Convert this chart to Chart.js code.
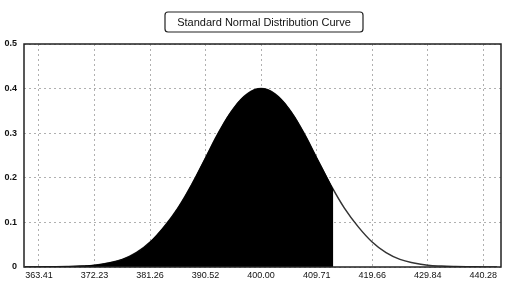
<!DOCTYPE html>
<html>
<head>
<meta charset="utf-8">
<script src="https://cdn.jsdelivr.net/npm/chart.js@4"></script>
<style>
  html, body { margin: 0; padding: 0; background: #fff; }
  #wrap { width: 525px; height: 294px; position: relative; }
</style>
</head>
<body>
<div id="wrap"><canvas id="chart"></canvas></div>
<script>
// ---- data ----
const chartTitle = 'Standard Normal Distribution Curve';
const xTickValues = [-4, -3, -2, -1, 0, 1, 2, 3, 4];
const xTickLabels = ['363.41', '372.23', '381.26', '390.52', '400.00', '409.71', '419.66', '429.84', '440.28'];
const yTickLabels = ['0', '0.1', '0.2', '0.3', '0.4', '0.5'];

// curve position (in tick steps from the mean) and density height
const curveZ = [-4.25, -4, -3.75, -3.5, -3.25, -3, -2.75, -2.5, -2.25, -2, -1.75, -1.5, -1.25, -1, -0.75, -0.5, -0.25,
  0, 0.25, 0.5, 0.75, 1, 1.25, 1.5, 1.75, 2, 2.25, 2.5, 2.75, 3, 3.25, 3.5, 3.75, 4, 4.25];
const curveDensity = [0.0001, 0.0002, 0.0005, 0.001, 0.002, 0.004, 0.009, 0.017, 0.032, 0.056, 0.090, 0.132, 0.185, 0.245, 0.305, 0.355, 0.388,
  0.400, 0.388, 0.355, 0.305, 0.245, 0.185, 0.132, 0.090, 0.056, 0.032, 0.017, 0.009, 0.004, 0.002, 0.001, 0.0005, 0.0002, 0.0001];

// shaded area stops here
const shadeCutoffZ = 1.3;
const shadeCutoffDensity = 0.172;

const curvePoints = curveZ.map((z, i) => ({ x: z, y: curveDensity[i] }));
const shadedPoints = curvePoints.filter(p => p.x < shadeCutoffZ).concat([{ x: shadeCutoffZ, y: shadeCutoffDensity }]);

// title in a small box + frame round the plot
const framePlugin = {
  id: 'frame',
  afterDraw(chart) {
    const ctx = chart.ctx, a = chart.chartArea;
    ctx.save();
    ctx.strokeStyle = '#222';
    ctx.lineWidth = 1.5;
    ctx.strokeRect(a.left, a.top, a.right - a.left, a.bottom - a.top);

    ctx.font = '11px "Liberation Sans", Arial, sans-serif';
    ctx.fillStyle = '#111';
    ctx.textAlign = 'center';
    ctx.textBaseline = 'middle';
    const cx = 264, cy = 22;
    const w = 198, h = 20;
    ctx.lineWidth = 1.2;
    ctx.beginPath();
    ctx.roundRect(cx - w / 2, cy - h / 2, w, h, 3);
    ctx.stroke();
    ctx.fillText(chartTitle, cx, cy + 0.5);
    ctx.restore();
  }
};

new Chart(document.getElementById('chart'), {
  type: 'scatter',
  data: {
    datasets: [
      { data: shadedPoints, showLine: true, fill: 'origin', backgroundColor: '#000', borderColor: '#000',
        borderWidth: 1, pointRadius: 0, tension: 0.4 },
      { data: curvePoints, showLine: true, fill: false, borderColor: '#333', borderWidth: 1.5,
        pointRadius: 0, tension: 0.4 }
    ]
  },
  options: {
    responsive: true, maintainAspectRatio: false, animation: false,
    layout: { padding: { left: 0, right: 24, top: 44, bottom: 0 } },
    plugins: { legend: { display: false }, tooltip: { enabled: false }, title: { display: false } },
    scales: {
      x: {
        type: 'linear', min: -4.27, max: 4.32,
        afterBuildTicks: s => { s.ticks = xTickValues.map(v => ({ value: v })); },
        afterFit: s => { s.height = 27; },
        border: { display: false, dash: [2, 3] },
        grid: { color: '#b0b0b0', lineWidth: 1, drawTicks: false },
        ticks: { padding: 3, color: '#111', font: { family: '"Liberation Sans", Arial', size: 9 },
          callback: v => xTickLabels[xTickValues.indexOf(v)] }
      },
      y: {
        min: 0, max: 0.5,
        afterBuildTicks: s => { s.ticks = yTickLabels.map((t, i) => ({ value: i / 10 })); },
        afterFit: s => { s.width = 24; },
        border: { display: false, dash: [2, 3] },
        grid: { color: '#b0b0b0', lineWidth: 1, drawTicks: false },
        ticks: { padding: 7, color: '#111', font: { family: '"Liberation Sans", Arial', size: 9, weight: 'bold' },
          callback: (v, i) => yTickLabels[i] }
      }
    }
  },
  plugins: [framePlugin]
});
</script>
</body>
</html>
